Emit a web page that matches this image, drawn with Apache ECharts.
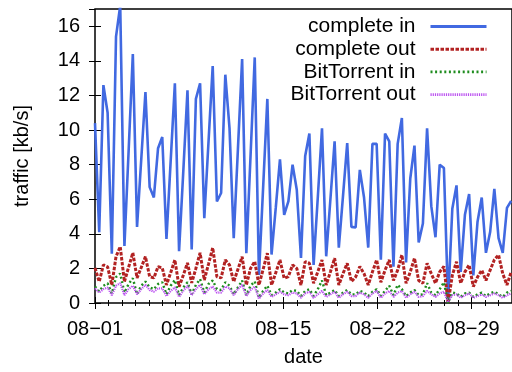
<!DOCTYPE html>
<html>
<head>
<meta charset="utf-8">
<script src="https://cdn.jsdelivr.net/npm/echarts@6/dist/echarts.min.js"></script>
<style>
  html, body { margin: 0; padding: 0; background: #fff; }
  #chart { width: 512px; height: 372px; }
</style>
</head>
<body>
<div id="chart"></div>
<script>
// samples every 7.5 h starting 08-01 00:00
const stepHours = 7.5;
const tickLabels = ['08\u221201', '08\u221208', '08\u221215', '08\u221222', '08\u221229'];
const seriesNames = ['complete in', 'complete out', 'BitTorrent in', 'BitTorrent out'];

const completeIn = [
  10.4, 4.1, 12.6, 11.0, 2.85, 15.4, 17.2, 3.3, 8.8, 14.4,
  4.4, 8.3, 12.2, 6.7, 6.1, 8.95, 9.6, 3.7, 8.2, 12.7,
  3.0, 7.6, 12.3, 3.1, 11.8, 12.7, 4.9, 9.3, 13.7, 5.87,
  6.36, 13.2, 10.1, 3.75, 8.9, 14.1, 2.88, 8.5, 14.2, 1.62,
  6.7, 11.8, 2.8, 5.5, 8.3, 5.1, 5.87, 8.0, 6.55, 2.6,
  8.5, 9.8, 2.2, 6.1, 10.1, 2.7, 6.0, 9.35, 3.2, 6.2,
  9.25, 4.4, 4.37, 7.7, 6.1, 3.2, 9.2, 9.2, 2.5, 9.8,
  9.35, 2.1, 9.2, 10.7, 2.35, 7.2, 9.1, 3.5, 4.6, 10.1,
  5.6, 3.8, 8.0, 7.8, 0.08, 5.45, 6.8, 1.8, 5.1, 6.3,
  1.6, 4.7, 6.1, 2.9, 4.1, 6.6, 3.75, 2.9, 5.5, 5.9
];
const completeOut = [
  2.03, 1.23, 2.2, 2.09, 1.04, 2.68, 3.26, 1.23, 2.07, 2.9,
  1.45, 2.05, 2.68, 1.52, 1.45, 2.1, 2.03, 1.04, 1.75, 2.49,
  0.94, 1.6, 2.32, 1.16, 2.0, 2.9, 1.33, 2.25, 3.19, 1.52,
  1.45, 2.49, 2.2, 1.23, 1.95, 2.68, 1.04, 2.0, 2.4, 1.04,
  1.95, 2.88, 1.04, 1.75, 2.49, 1.43, 1.53, 2.2, 2.0, 1.04,
  2.39, 2.3, 1.14, 1.8, 2.49, 1.04, 1.8, 2.59, 1.04, 1.7,
  2.3, 1.24, 1.5, 2.11, 1.7, 1.04, 1.8, 2.49, 1.2, 1.9,
  2.49, 1.3, 1.9, 2.78, 1.14, 1.8, 2.59, 1.3, 1.14, 2.3,
  1.7, 1.14, 1.8, 2.11, 0.0, 1.6, 2.39, 1.14, 1.8, 2.2,
  0.95, 1.5, 1.9, 1.3, 1.9, 2.5, 2.78, 1.7, 1.04, 1.8
];
const btIn = [
  0.95, 0.66, 1.0, 1.14, 0.55, 1.5, 1.7, 0.6, 1.1, 1.43,
  0.5, 1.0, 1.24, 0.9, 0.8, 1.1, 1.2, 0.5, 1.0, 1.33,
  0.45, 0.9, 1.2, 0.5, 1.05, 1.38, 0.6, 1.1, 1.3, 0.8,
  0.75, 1.2, 1.0, 0.5, 0.9, 1.3, 0.45, 1.0, 1.25, 0.3,
  0.7, 1.0, 0.45, 0.6, 0.8, 0.6, 0.55, 0.75, 0.7, 0.4,
  0.7, 0.8, 0.4, 0.8, 1.3, 0.45, 0.6, 0.75, 0.4, 0.6,
  0.75, 0.5, 0.5, 0.7, 0.6, 0.4, 0.65, 0.8, 0.4, 0.7,
  1.0, 0.45, 1.05, 0.8, 0.4, 0.6, 0.75, 0.45, 0.5, 1.15,
  0.6, 0.45, 0.8, 1.2, 0.0, 0.6, 0.55, 0.35, 0.55, 0.6,
  0.35, 0.5, 0.6, 0.4, 0.55, 0.65, 0.5, 0.35, 0.6, 0.7
];
const btOut = [
  0.85, 0.6, 0.8, 0.9, 0.45, 1.0, 1.15, 0.45, 0.8, 1.0,
  0.5, 0.8, 1.05, 0.75, 0.65, 0.85, 0.85, 0.4, 0.7, 0.9,
  0.35, 0.7, 1.0, 0.45, 0.8, 1.05, 0.5, 0.8, 0.95, 0.6,
  0.6, 0.95, 0.85, 0.45, 0.8, 1.05, 0.4, 0.75, 0.95, 0.25,
  0.55, 0.75, 0.35, 0.5, 0.65, 0.5, 0.45, 0.6, 0.55, 0.3,
  0.55, 0.65, 0.3, 0.5, 0.7, 0.35, 0.5, 0.65, 0.3, 0.5,
  0.65, 0.4, 0.4, 0.6, 0.5, 0.3, 0.55, 0.7, 0.3, 0.55,
  0.7, 0.35, 0.6, 0.7, 0.3, 0.5, 0.65, 0.35, 0.4, 0.7,
  0.5, 0.35, 0.55, 0.65, 0.05, 0.45, 0.5, 0.3, 0.45, 0.55,
  0.3, 0.4, 0.5, 0.35, 0.45, 0.55, 0.45, 0.3, 0.45, 0.55
];

const font = 'Liberation Sans, Arial, Helvetica, sans-serif';

// x in days since 08-01
function toPoints(values) {
  return values.map((v, i) => [i * stepHours / 24, v]);
}

const chart = echarts.init(document.getElementById('chart'));

const xCommon = {
  type: 'value',
  min: 0,
  max: 31,
  interval: 7,
  splitLine: { show: false },
  axisLine: { show: false },
  axisTick: { inside: true, length: 6, lineStyle: { color: '#000', width: 1 } },
  minorTick: { show: true, splitNumber: 7, length: 3, lineStyle: { color: '#000', width: 1 } }
};
const yCommon = {
  type: 'value',
  min: 0,
  max: 17,
  interval: 2,
  splitLine: { show: false },
  axisLine: { show: false },
  axisTick: { inside: true, length: 6, lineStyle: { color: '#000', width: 1 } }
};

chart.setOption({
  animation: false,
  grid: {
    left: 95, top: 9, right: -1, bottom: 69,
    show: true, borderColor: '#000', borderWidth: 1.5
  },
  legend: {
    orient: 'vertical',
    right: 24,
    top: 16,
    padding: 0,
    align: 'right',
    itemWidth: 56,
    itemHeight: 20,
    itemGap: 1.7,
    selectedMode: false,
    itemStyle: { opacity: 0 },
    textStyle: { fontFamily: font, fontSize: 21, color: '#000', lineHeight: 20, padding: [0, 10, 0, 0] },
    data: [
      { name: seriesNames[0], lineStyle: { width: 3 } },
      { name: seriesNames[1], lineStyle: { width: 3 } },
      { name: seriesNames[2], lineStyle: { width: 2.6 } },
      { name: seriesNames[3], lineStyle: { width: 2.6 } }
    ]
  },
  xAxis: [
    Object.assign({}, xCommon, {
      position: 'bottom',
      name: 'date',
      nameLocation: 'middle',
      nameGap: 44,
      nameTextStyle: { fontFamily: font, fontSize: 20, color: '#000' },
      axisLabel: {
        margin: 16, fontFamily: font, fontSize: 20, color: '#000',
        formatter: v => tickLabels[Math.round(v / 7)] || ''
      }
    }),
    Object.assign({}, xCommon, { position: 'top', axisLabel: { show: false } })
  ],
  yAxis: [
    Object.assign({}, yCommon, {
      position: 'left',
      name: 'traffic [kb/s]',
      nameLocation: 'middle',
      nameGap: 63,
      nameTextStyle: { fontFamily: font, fontSize: 20, color: '#000' },
      axisLabel: { margin: 15, fontFamily: font, fontSize: 20, color: '#000' }
    }),
    Object.assign({}, yCommon, { position: 'right', axisLabel: { show: false } })
  ],
  series: [
    {
      name: seriesNames[0], type: 'line', data: toPoints(completeIn),
      symbol: 'none', color: '#4169e1',
      lineStyle: { color: '#4169e1', width: 2.6 }
    },
    {
      name: seriesNames[1], type: 'line', data: toPoints(completeOut),
      symbol: 'none', color: '#b22222',
      lineStyle: { color: '#b22222', width: 3, type: [3.5, 1.5] }
    },
    {
      name: seriesNames[2], type: 'line', data: toPoints(btIn),
      symbol: 'none', color: '#1e8c1e',
      lineStyle: { color: '#1e8c1e', width: 2.4, type: [2, 2.6] }
    },
    {
      name: seriesNames[3], type: 'line', data: toPoints(btOut),
      symbol: 'none', color: '#bb50f0',
      lineStyle: { color: '#bb50f0', width: 2.2, type: [1.2, 1] }
    }
  ]
});
</script>
</body>
</html>
